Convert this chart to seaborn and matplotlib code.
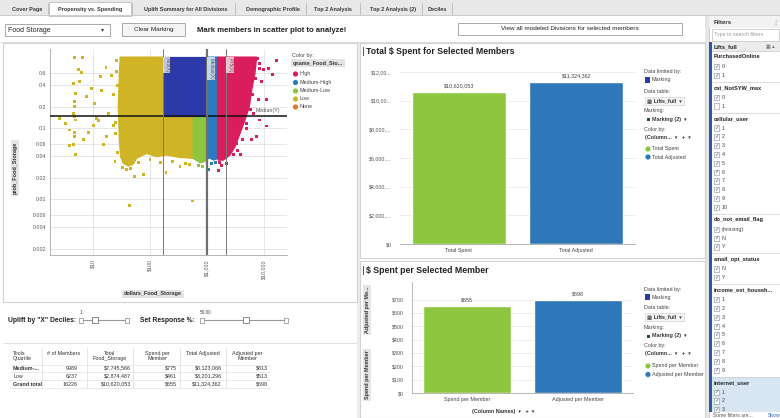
import matplotlib
matplotlib.use("Agg")
import matplotlib.pyplot as plt
from matplotlib.patches import Rectangle, Ellipse
from matplotlib.lines import Line2D
from matplotlib.ticker import NullLocator
import seaborn as sns
import pandas as pd

sns.set_theme(style="white")
plt.rcParams["font.family"] = ["Liberation Sans", "DejaVu Sans"]

# ---------------- scatter: propensity vs. spending ----------------
quartiles = ["High", "Medium-High", "Medium-Low", "Low", "None"]
quartile_colors = ["#DA1D5C", "#2C7BC0", "#8CC63F", "#CFB425", "#E9762B"]
marked_color = "#2B3AA6"

x_ticks = [10, 100, 1000, 10000]
x_tick_labels = ["$10", "$100", "$1,000", "$10,000"]
y_ticks = [0.002, 0.004, 0.006, 0.01, 0.02, 0.04, 0.06, 0.1, 0.2, 0.4, 0.6]
y_tick_labels = ["0.002", "0.004", "0.006", "0.01", "0.02", "0.04", "0.06", "0.1", "0.2", "0.4", "0.6"]

# outlines of the dense member clouds (dollars, probability)
low_cloud_dollars = [30, 176, 176, 575, 575, 336, 196, 131, 87, 58, 51, 42, 34, 30.5, 29, 27.8, 29]
low_cloud_prob = [1.0, 1.0, 0.148, 0.148, 0.0374, 0.0386, 0.0417, 0.0395, 0.044, 0.0374,
                  0.0311, 0.0292, 0.0318, 0.0395, 0.068, 0.2, 0.59]
medlow_cloud_dollars = [575, 1000, 1000, 900, 760, 660, 575]
medlow_cloud_prob = [0.148, 0.148, 0.036, 0.0336, 0.0325, 0.0347, 0.0374]
marked_cloud_dollars = [176, 1000, 1000, 176]
marked_cloud_prob = [1.0, 1.0, 0.148, 0.148]
medhigh_cloud_dollars = [1000, 1530, 1530, 1300, 1100, 1000]
medhigh_cloud_prob = [1.0, 1.0, 0.037, 0.0355, 0.038, 0.036]
high_cloud_dollars = [1530, 7430, 6950, 6080, 5530, 4640, 3800, 3100, 2530, 1940, 1580, 1530]
high_cloud_prob = [1.0, 1.0, 0.59, 0.343, 0.2, 0.13, 0.084, 0.0546, 0.0417, 0.0354, 0.0354, 0.038]

# individual members outside the dense clouds, per quartile
low_dollars = [2.6, 3.3, 3.8, 3.8, 4.8, 6.6, 5.6, 6.4, 4.6, 4.9, 4.7, 4.8, 4.9, 4.7, 4.8, 4.6,
               4.9, 4.5, 4.8, 6.8, 8.3, 10.1, 11.6, 10.8, 5.9, 7.7, 9.5, 13.3, 16.9, 14.2, 21.5,
               26, 12.6, 15.2, 17.4, 22.7, 24.3, 42.9, 53, 76, 191, 336, 561, 19, 23, 25, 27,
               33, 38, 45, 62, 100, 150, 250, 420, 500, 26, 25, 27]
low_prob = [0.137, 0.117, 0.094, 0.056, 1.0, 1.0, 0.67, 0.61, 0.43, 0.31, 0.2, 0.145, 0.13,
            0.086, 0.075, 0.058, 0.043, 0.16, 0.24, 0.07, 0.087, 0.11, 0.137, 0.22, 0.45,
            0.28, 0.36, 0.53, 0.71, 0.34, 0.55, 0.62, 0.127, 0.058, 0.075, 0.11, 0.034,
            0.008, 0.021, 0.022, 0.024, 0.0285, 0.0094, 0.16, 0.3, 0.085, 0.045,
            0.028, 0.026, 0.027, 0.033, 0.036, 0.033, 0.034, 0.032, 0.031, 0.9, 0.12, 0.4]
medlow_dollars = [700, 850]
medlow_prob = [0.030, 0.029]
medhigh_dollars = [1055, 1200, 1400]
medhigh_prob = [0.026, 0.032, 0.033]
high_dollars = [1580, 1690, 11100, 16700, 14000, 9700, 7400, 11100, 7900, 4970, 6080, 3800,
                2900, 2700, 8500, 9000, 12000, 6500, 8200, 3300,
                7800, 8200, 7200, 6400, 5800, 5000, 4200, 3400, 2200, 1800]
high_prob = [0.025, 0.033, 0.107, 0.89, 0.56, 0.66, 0.075, 0.25, 0.25, 0.116, 0.068, 0.042,
             0.042, 0.05, 0.8, 0.45, 0.7, 0.16, 0.13, 0.06,
             0.95, 0.7, 0.5, 0.3, 0.18, 0.1, 0.07, 0.048, 0.032, 0.03]

p25_dollars = 170
median_dollars = 1000
p75_dollars = 2150
median_prob = 0.148

# ---------------- bar charts ----------------
bar_colors = ["#8DC63F", "#2E77B9"]
bar1_categories = ["Total Spent", "Total Adjusted"]
bar1_values = [10620053, 11324362]
bar1_ticks = [0, 2e6, 4e6, 6e6, 8e6, 10e6, 12e6]
bar1_tick_labels = ["$0", "$2,000,...", "$4,000,...", "$6,000,...", "$8,000,...", "$10,00...", "$12,00..."]

bar2_categories = ["Spend per Member", "Adjusted per Member"]
bar2_values = [655, 698]
bar2_ticks = [0, 100, 200, 300, 400, 500, 600, 700]
bar2_tick_labels = ["$0", "$100", "$200", "$300", "$400", "$500", "$600", "$700"]

# ---------------- summary table ----------------
table_header = ["Tools\nQuartile", "# of Members", "Total\nFood_Storage", "Spend per\nMember",
                "Total Adjusted", "Adjusted per\nMember"]
table_quartile = ["Medium-...", "Low", "Grand total"]
table_members = [9989, 6237, 16226]
table_total = [7745566, 2874487, 10620053]
table_spend_per = [775, 461, 655]
table_adjusted = [8123066, 3201296, 11324362]
table_adjusted_per = [813, 513, 698]

# ---------------- tabs and filters ----------------
tab_names = ["Cover Page", "Propensity vs. Spending", "Uplift Summary for All Divisions",
             "Demographic Profile", "Top 2 Analysis", "Top 2 Analysis (2)", "Deciles"]
filter_headers = ["PurchasedOnline", "cat_NotSYW_max", "cellular_user", "do_not_email_flag",
                  "email_opt_status", "income_est_househ...", "internet_user"]
filter_values = [["0", "1"], ["0", "1"], ["1", "2", "3", "4", "5", "6", "7", "8", "9", "10"],
                 ["(missing)", "N", "Y"], ["N", "Y"], ["1", "2", "3", "4", "5", "6", "7", "8", "9"],
                 ["1", "2", "3"]]
filter_unchecked = [("cat_NotSYW_max", "1")]

# ================================================================
W, H = 780, 418
fig = plt.figure(figsize=(7.8, 4.18), dpi=100)
fig.patch.set_facecolor("white")


def box(x0, y0, x1, y1):
    return [x0 / W, 1 - y1 / H, (x1 - x0) / W, (y1 - y0) / H]


def R(x0, y0, x1, y1, fc="none", ec="none", lw=0.6, z=-2):
    fig.add_artist(Rectangle((x0 / W, 1 - y1 / H), (x1 - x0) / W, (y1 - y0) / H,
                             transform=fig.transFigure, facecolor=fc, edgecolor=ec,
                             linewidth=lw, zorder=z))


def T(x, y, s, size=4.0, color="#333333", weight="normal", ha="left", va="center",
      rot=0, z=6, **kw):
    fig.text(x / W, 1 - y / H, s, fontsize=size, color=color, fontweight=weight,
             ha=ha, va=va, rotation=rot, zorder=z, **kw)


def L(xs, ys, color="#D0D0D0", lw=0.6, z=-1, **kw):
    fig.add_artist(Line2D([x / W for x in xs], [1 - y / H for y in ys],
                          transform=fig.transFigure, color=color, linewidth=lw, zorder=z, **kw))


def dot(x, y, c, r=2.6):
    fig.add_artist(Ellipse((x / W, 1 - y / H), 2 * r / W, 2 * r / H,
                           transform=fig.transFigure, facecolor=c, edgecolor="none", zorder=6))


# ---- tab strip ----
R(0, 0, 780, 15, fc="#E8E8E8", z=-5)
L([0, 780], [15, 15], color="#C4C4C4")
R(49, 2, 131, 15.5, fc="white", ec="#BDBDBD", z=-4)
for sx in [48, 132, 235, 306, 360, 422, 452]:
    L([sx, sx], [3, 14], color="#B8B8B8")
for name, cx in zip(tab_names, [27, 90, 186, 273, 333, 393, 437]):
    T(cx, 9.5, name, size=4.0, weight="bold", ha="center", color="#3A3A3A")

# ---- control row ----
R(5, 24, 110, 36, fc="white", ec="#9A9A9A")
T(8, 30, "Food Storage", size=5.0, color="#222")
T(101, 30, "▾", size=4.5, color="#444")
R(122, 23, 185, 36, fc="#F5F5F5", ec="#9A9A9A")
T(153.5, 29.5, "Clear Marking", size=4.6, ha="center", color="#222")
T(197, 30.5, "Mark members in scatter plot to analyze!", size=5.6, weight="bold", color="#222")
R(458, 23, 682, 35, fc="white", ec="#9A9A9A")
T(570, 29, "View all modeled Divisions for selected members", size=4.6, ha="center", color="#222")
L([0, 705], [42, 42], color="#D6D6D6")

# ---- panel frames ----
R(357, 43, 360, 418, fc="#ECECEC", z=-4)
R(705, 15, 709, 418, fc="#E6E6E6", z=-4)
R(3, 43, 357, 302, ec="#D2D2D2", lw=0.8)
R(360, 43, 705, 258, ec="#D2D2D2", lw=0.8)
R(360, 261, 705, 418, ec="#D2D2D2", lw=0.8)
L([3, 357], [343, 343], color="#DADADA")

# ================= scatter =================
ax = fig.add_axes(box(50, 49, 287, 255))
ax.set_facecolor("none")
ax.set_xscale("log")
ax.set_yscale("log")
clouds = [
    (low_cloud_dollars, low_cloud_prob, quartile_colors[3]),
    (medlow_cloud_dollars, medlow_cloud_prob, quartile_colors[2]),
    (marked_cloud_dollars, marked_cloud_prob, marked_color),
    (medhigh_cloud_dollars, medhigh_cloud_prob, quartile_colors[1]),
    (high_cloud_dollars, high_cloud_prob, quartile_colors[0]),
]
for xs, ys, c in clouds:
    ax.fill(xs, ys, facecolor=c, edgecolor=c, linewidth=0.9, zorder=2)

members = pd.concat([
    pd.DataFrame({"dollars": low_dollars, "prob": low_prob, "quartile": "Low"}),
    pd.DataFrame({"dollars": medlow_dollars, "prob": medlow_prob, "quartile": "Medium-Low"}),
    pd.DataFrame({"dollars": medhigh_dollars, "prob": medhigh_prob, "quartile": "Medium-High"}),
    pd.DataFrame({"dollars": high_dollars, "prob": high_prob, "quartile": "High"}),
], ignore_index=True)
sns.scatterplot(data=members, x="dollars", y="prob", hue="quartile",
                palette=dict(zip(quartiles, quartile_colors)), marker="s", s=4.5,
                linewidth=0, legend=False, ax=ax, zorder=3)

ax.axhline(median_prob, color="#111111", lw=1.1, zorder=5)
ax.axvline(p25_dollars, color="#7A7A7A", lw=0.7, zorder=5)
ax.axvline(median_dollars, color="#6E6E6E", lw=1.6, zorder=5)
ax.axvline(p75_dollars, color="#7A7A7A", lw=0.7, zorder=5)
lab_box = dict(boxstyle="square,pad=0.25", fc="white", ec="none", alpha=0.7)
ax.text(p25_dollars * 1.05, 0.98, "P25(X)", rotation=270, ha="left", va="top",
        fontsize=3.3, color="#555", bbox=lab_box, zorder=6)
ax.text(median_dollars * 1.06, 0.98, "Median(X)", rotation=270, ha="left", va="top",
        fontsize=3.3, color="#555", bbox=lab_box, zorder=6)
ax.text(p75_dollars * 1.06, 0.98, "P75(X)", rotation=270, ha="left", va="top",
        fontsize=3.3, color="#555", bbox=lab_box, zorder=6)
ax.text(7000, median_prob * 1.1, "Median(Y)", ha="left", va="bottom", fontsize=3.8,
        color="#555", zorder=6)

ax.set_xlim(1.76, 25350)
ax.set_ylim(0.00163, 1.3)
ax.set_xticks(x_ticks)
ax.set_xticklabels(x_tick_labels, rotation=90)
ax.set_yticks(y_ticks)
ax.set_yticklabels(y_tick_labels)
ax.xaxis.set_minor_locator(NullLocator())
ax.yaxis.set_minor_locator(NullLocator())
ax.tick_params(labelsize=3.8, labelcolor="#555555", length=0, pad=3)
ax.grid(True, color="#DDDDDD", lw=0.5, zorder=0)
ax.set_axisbelow(True)
ax.set_xlabel("")
ax.set_ylabel("")
for side in ["top", "right"]:
    ax.spines[side].set_visible(False)
for side in ["left", "bottom"]:
    ax.spines[side].set_color("#A8A8A8")
    ax.spines[side].set_linewidth(0.6)

gray_box = dict(boxstyle="square,pad=0.35", fc="#E4E4E4", ec="none")
T(15, 168, "prob_Food_Storage", size=4.0, weight="bold", rot=90, ha="center", bbox=gray_box)
T(153, 294, "dollars_Food_Storage", size=4.0, weight="bold", ha="center", bbox=gray_box)

# scatter legend
T(292, 55, "Color by:", size=3.9, color="#444")
T(293, 63, "qname_Food_Sto...", size=3.9, weight="bold", color="#333",
  bbox=dict(boxstyle="square,pad=0.3", fc="#E4E4E4", ec="none"))
for q, c, ly in zip(quartiles, quartile_colors, [74, 82.5, 91, 99, 107]):
    dot(295.5, ly, c)
    T(300, ly, q, size=3.9, color="#444")

# ================= slider strip =================
T(8, 320, 'Uplift by "X" Deciles:', size=4.9, weight="bold", color="#222")
L([80, 128], [320, 320], color="#9A9A9A", lw=0.8, z=1)
R(79, 317.5, 83, 322.5, fc="white", ec="#888", lw=0.5, z=2)
R(125, 317.5, 129, 322.5, fc="white", ec="#888", lw=0.5, z=2)
R(92, 317, 98, 323, fc="white", ec="#777", lw=0.6, z=2)
T(81, 313, "1", size=3.4, color="#444", ha="center")
T(140, 320, "Set Response %:", size=4.9, weight="bold", color="#222")
L([201, 287], [320, 320], color="#9A9A9A", lw=0.8, z=1)
R(200, 317.5, 204, 322.5, fc="white", ec="#888", lw=0.5, z=2)
R(284, 317.5, 288, 322.5, fc="white", ec="#888", lw=0.5, z=2)
R(243, 317, 249, 323, fc="white", ec="#777", lw=0.6, z=2)
T(200, 313, "50.00", size=3.4, color="#444")

# ================= summary table =================
col_edges = [10, 42, 87, 133, 180, 226, 270]
for cx in col_edges[1:-1]:
    L([cx, cx], [348, 388], color="#E2E2E2")
for ry in [364.5, 372, 380, 388]:
    L([10, 270], [ry, ry], color="#E6E6E6")
header_x = [13, 64, 110, 157, 203, 247]
for i, (hx, ht) in enumerate(zip(header_x, table_header)):
    T(hx, 351, ht, size=3.9, color="#333", ha="left" if i == 0 else "center", va="top",
      linespacing=1.1)
row_y = [368, 376, 384]
value_right = [78, 131, 177, 222, 268]
for r, ry in enumerate(row_y):
    T(13, ry, table_quartile[r], size=3.9, color="#333",
      weight="normal" if table_quartile[r] == "Low" else "bold")
    cells = [f"{table_members[r]}", f"${table_total[r]:,}", f"${table_spend_per[r]}",
             f"${table_adjusted[r]:,}", f"${table_adjusted_per[r]}"]
    for vx, s in zip(value_right, cells):
        T(vx, ry, s, size=3.9, color="#333", ha="right")


# ================= bar chart helpers =================
def side_legend(x, ys, series):
    T(x, ys[0], "Data limited by:", size=3.9, color="#444")
    R(x + 1, ys[1] - 2.6, x + 6, ys[1] + 2.6, fc=marked_color, z=1)
    T(x + 7, ys[1], "Marking", size=3.9, color="#444")
    T(x, ys[2], "Data table:", size=3.9, color="#444")
    R(x + 1, ys[3] - 4, x + 40, ys[3] + 4, fc="#F4F4F4", ec="#DADADA", z=1)
    T(x + 3, ys[3], "▦ Lifts_full  ▾", size=3.9, weight="bold", color="#333")
    T(x, ys[4], "Marking:", size=3.9, color="#444")
    R(x + 3, ys[5] - 1.5, x + 6, ys[5] + 1.5, fc="#1C5A1C", z=1)
    T(x + 8, ys[5], "Marking (2)  ▾", size=3.9, weight="bold", color="#333")
    T(x, ys[6], "Color by:", size=3.9, color="#444")
    T(x + 1, ys[7], "(Column...  ▾   +  ▾", size=3.9, weight="bold", color="#333")
    for name, c, ly in zip(series, bar_colors, ys[8:]):
        dot(x + 4, ly, c)
        T(x + 8, ly, name, size=3.9, color="#444")


def style_bars(a, ticks, labels, show_left):
    a.set_facecolor("none")
    a.set_xlim(-0.5, 1.5)
    a.set_yticks(ticks)
    a.set_yticklabels(labels)
    a.set_xticks([-0.5, 0.5, 1.5], minor=True)
    a.tick_params(axis="x", which="major", length=0, labelsize=3.9, labelcolor="#444", pad=3)
    a.tick_params(axis="x", which="minor", length=4, color="#AAAAAA", width=0.6, direction="out")
    a.tick_params(axis="y", length=5, color="#DDDDDD", width=0.5, labelsize=3.8,
                  labelcolor="#555", pad=1)
    a.yaxis.grid(True, color="#E4E4E4", lw=0.5)
    a.xaxis.grid(False)
    a.set_axisbelow(True)
    a.set_xlabel("")
    a.set_ylabel("")
    for side in ["top", "right"]:
        a.spines[side].set_visible(False)
    a.spines["left"].set_visible(show_left)
    a.spines["left"].set_color("#B0B0B0")
    a.spines["left"].set_linewidth(0.6)
    a.spines["bottom"].set_color("#A8A8A8")
    a.spines["bottom"].set_linewidth(0.6)


# ================= bar chart 1 =================
R(362.5, 47, 364, 56, fc="#2E62B0", z=1)
T(366, 51.5, "Total $ Spent for Selected Members", size=6.3, weight="bold", color="#222")
ax1 = fig.add_axes(box(400, 65, 635, 244))
sns.barplot(x=bar1_categories, y=bar1_values, hue=bar1_categories, palette=bar_colors,
            width=0.8, saturation=1, legend=False, ax=ax1, zorder=2)
ax1.set_ylim(0, 12.49e6)
style_bars(ax1, bar1_ticks, bar1_tick_labels, False)
for i, v in enumerate(bar1_values):
    ax1.annotate(f"${v:,.0f}", (i, v), xytext=(0, 2.2), textcoords="offset points",
                 ha="center", va="bottom", fontsize=3.9, color="#444")
side_legend(644, [71, 80, 91.5, 101, 110.5, 119, 129, 137.5, 149, 157], bar1_categories)

# ================= bar chart 2 =================
R(362.5, 266, 364, 275, fc="#2E62B0", z=1)
T(366, 270.5, "$ Spent per Selected Member", size=6.3, weight="bold", color="#222")
ax2 = fig.add_axes(box(412, 282, 633, 393))
sns.barplot(x=bar2_categories, y=bar2_values, hue=bar2_categories, palette=bar_colors,
            width=0.8, saturation=1, legend=False, ax=ax2, zorder=2)
ax2.set_ylim(0, 832)
style_bars(ax2, bar2_ticks, bar2_tick_labels, True)
for i, v in enumerate(bar2_values):
    ax2.annotate(f"${v:,.0f}", (i, v), xytext=(0, 2.2), textcoords="offset points",
                 ha="center", va="bottom", fontsize=3.9, color="#444")
T(367, 310, "Adjusted per Me...", size=3.9, weight="bold", rot=90, ha="center", bbox=gray_box)
T(367, 375, "Spend per Member", size=3.9, weight="bold", rot=90, ha="center", bbox=gray_box)
T(503, 411, "(Column Names)  ▾   +  ▾", size=3.9, weight="bold", ha="center", color="#333")
side_legend(644, [289, 297, 307.5, 317, 327.5, 336, 346, 354, 366, 374.5], bar2_categories)

# ================= filters panel =================
R(709, 15, 780, 418, fc="white", ec="#C8C8C8", lw=0.6, z=-3)
R(709, 15, 780, 28, fc="#F2F2F2", z=-2)
T(714, 22, "Filters", size=4.3, weight="bold", color="#333")
T(775, 22, "⋮", size=4.5, color="#555", ha="center")
R(712, 29, 779, 40.5, fc="white", ec="#BDBDBD", lw=0.5, z=-1)
T(714, 34.8, "Type to search filters", size=3.8, color="#9A9A9A")
R(711, 42, 780, 51.5, fc="#ECECEC", z=-1)
T(714, 47, "Lifts_full", size=4.1, weight="bold", color="#222")
T(766, 47, "▦ ▴", size=3.6, color="#666")

fy = 57.0
for header, values in zip(filter_headers, filter_values):
    if header == "internet_user":
        R(711, fy - 6, 780, 412, fc="#D8E6F3", z=-1)
    L([711, 780], [fy - 6, fy - 6], color="#CFCFCF", lw=0.5, z=0)
    T(714, fy, header, size=4.1, weight="bold", color="#222")
    fy += 9.5
    for v in values:
        R(714, fy - 2.6, 719.2, fy + 2.6, fc="white", ec="#8C8C8C", lw=0.4, z=1)
        if (header, v) not in filter_unchecked:
            T(716.6, fy, "✓", size=4.0, color="#2A5AA0", ha="center", weight="bold",
              family=["DejaVu Sans"])
        T(722, fy, v, size=3.9, color="#444")
        fy += 8.8
    fy += 3.7
R(709, 42, 711.5, 412, fc="#2C58A0", z=0)
T(713, 415.5, "Some filters are...", size=3.6, color="#555")
T(768, 415.5, "Show", size=3.6, color="#2A62B8")

fig.savefig("out.png", dpi=100, facecolor="white")
